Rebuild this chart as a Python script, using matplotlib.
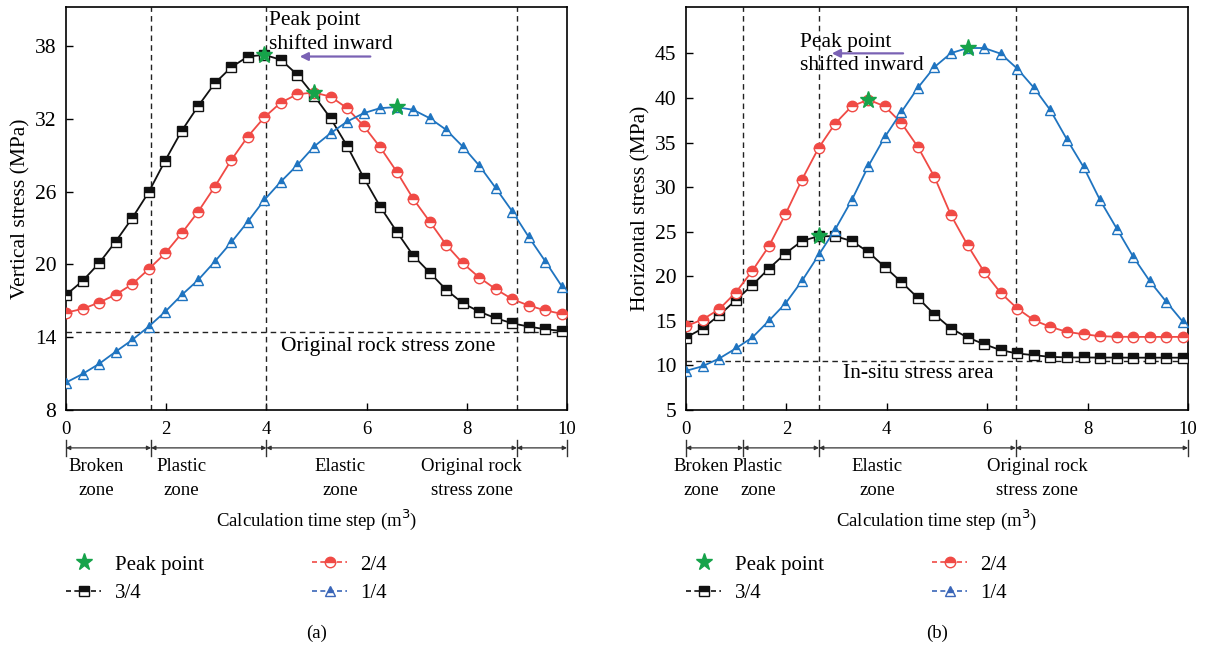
import matplotlib
matplotlib.use("Agg")
import matplotlib.pyplot as plt
from matplotlib.lines import Line2D
import numpy as np

plt.rcParams['font.family'] = ['Liberation Serif', 'DejaVu Serif']
plt.rcParams['font.size'] = 13.5

# calculation step positions (31 points)
x = np.arange(31) * 0.33

# (a) vertical stress
va_34 = [17.48, 18.63, 20.09, 21.87, 23.8, 25.94, 28.55, 31.0, 33.05, 34.92, 36.24,
         37.12, 37.26, 36.85, 35.61, 33.9, 32.04, 29.76, 27.15, 24.76, 22.7, 20.72,
         19.32, 17.9, 16.8, 16.1, 15.56, 15.14, 14.87, 14.65, 14.51]
va_24 = [16.02, 16.33, 16.85, 17.5, 18.36, 19.6, 20.91, 22.56, 24.35, 26.4, 28.6,
         30.53, 32.12, 33.33, 34.02, 34.15, 33.82, 32.87, 31.41, 29.65, 27.64, 25.4,
         23.52, 21.6, 20.09, 18.91, 17.95, 17.13, 16.6, 16.2, 15.92]
va_14 = [10.26, 10.97, 11.8, 12.8, 13.77, 14.87, 16.1, 17.48, 18.72, 20.23, 21.82,
         23.52, 25.31, 26.82, 28.19, 29.7, 30.8, 31.76, 32.45, 32.87, 32.95, 32.73,
         32.04, 31.08, 29.7, 28.13, 26.27, 24.35, 22.23, 20.23, 18.17]
peak_a = [12, 15, 20]   # indices of peak points (3/4, 2/4, 1/4)

# (b) horizontal stress
hb_34 = [13.13, 14.14, 15.63, 17.31, 19.0, 20.86, 22.55, 23.96, 24.49, 24.49, 23.96,
         22.73, 21.04, 19.36, 17.57, 15.71, 14.14, 13.13, 12.38, 11.71, 11.34, 11.15,
         10.96, 10.9, 10.89, 10.88, 10.88, 10.87, 10.87, 10.87, 10.87]
hb_24 = [14.4, 15.15, 16.3, 18.17, 20.6, 23.36, 26.95, 30.84, 34.38, 37.12, 39.06,
         39.81, 39.06, 37.19, 34.5, 31.13, 26.84, 23.48, 20.48, 18.13, 16.38, 15.07,
         14.32, 13.76, 13.5, 13.28, 13.22, 13.2, 13.2, 13.2, 13.2]
hb_14 = [9.39, 9.91, 10.77, 11.9, 13.13, 15.0, 16.94, 19.48, 22.36, 25.24, 28.52,
         32.33, 35.62, 38.42, 41.15, 43.47, 45.03, 45.6, 45.6, 44.96, 43.28, 41.15,
         38.61, 35.33, 32.25, 28.52, 25.35, 22.17, 19.44, 17.12, 14.88]
peak_b = [8, 11, 17]

c_black = '#111111'
c_red = '#f04a45'
c_blue = '#1f74c0'
c_green = '#16a34a'
c_purple = '#7a62b4'

fig = plt.figure(figsize=(12.05, 6.47), dpi=100)

big = 15.5


def panel(rect, series, peaks, ylim, yticks, ylabel, vlines, hline, hl_text,
          zones, zone_x, tag, peak_txt, arrow):
    ax = fig.add_axes(rect)
    styles = [(c_black, 's', 7), (c_red, 'o', 7.5), (c_blue, '^', 7.5)]
    for y, (c, m, ms) in zip(series, styles):
        ax.plot(x, y, color=c, lw=1.3, marker=m, ms=ms, fillstyle='top',
                markerfacecoloralt='white', markeredgecolor=c, mew=1.0, zorder=3)
    for y, i in zip(series, peaks):
        ax.plot(x[i], y[i], marker='*', ms=12.5, color=c_green, mec=c_green, zorder=5)
    for v in vlines:
        ax.axvline(v, color='#222222', ls=(0, (4, 3)), lw=1.0, zorder=2)
    ax.axhline(hline, color='#222222', ls=(0, (4, 3)), lw=1.0, zorder=2)
    ax.text(hl_text[0], hl_text[1], hl_text[2], ha='center', va='center', fontsize=big)
    ax.text(peak_txt[0], peak_txt[1], 'Peak point\nshifted inward', ha='left',
            va='center', linespacing=1.3, fontsize=big, zorder=6)
    ax.annotate('', xy=(arrow[1], arrow[2]), xytext=(arrow[0], arrow[2]),
                arrowprops=dict(arrowstyle='-|>', color=c_purple, lw=1.6,
                                mutation_scale=12), zorder=6)
    ax.set_xlim(0, 10)
    ax.set_ylim(*ylim)
    ax.set_xticks([0, 2, 4, 6, 8, 10])
    ax.set_yticks(yticks)
    ax.tick_params(direction='in', length=5, width=1)
    ax.tick_params(axis='x', pad=8, labelsize=13.5)
    ax.tick_params(axis='y', pad=7, labelsize=big)
    ax.set_ylabel(ylabel, fontsize=big, labelpad=3)
    for s in ax.spines.values():
        s.set_linewidth(1.2)

    # zone arrows under the axis
    tr = ax.get_xaxis_transform()
    ya = -0.094
    for a, b in zip(zones[:-1], zones[1:]):
        ax.annotate('', xy=(a, ya), xytext=(b, ya), xycoords=tr, textcoords=tr,
                    arrowprops=dict(arrowstyle='<|-|>', color='#333333', lw=0.9,
                                    mutation_scale=6, shrinkA=0, shrinkB=0))
    for z in zones:
        ax.plot([z, z], [ya - 0.02, ya + 0.02], color='#333333', lw=1.0,
                transform=tr, clip_on=False)
    names = ['Broken\nzone', 'Plastic\nzone', 'Elastic\nzone', 'Original rock\nstress zone']
    for zx, n in zip(zone_x, names):
        ax.text(zx, -0.17, n, transform=tr, ha='center', va='center',
                linespacing=1.5, fontsize=13.5)
    ax.text(0.5, -0.273, 'Calculation time step (m$^3$)', transform=ax.transAxes,
            ha='center', va='center', fontsize=13.5)
    ax.text(0.5, -0.553, tag, transform=ax.transAxes, ha='center', va='center',
            fontsize=13.5)

    handles = [
        Line2D([], [], ls='none', marker='*', ms=12.5, color=c_green),
        Line2D([], [], ls=(0, (3, 2)), color=c_black, marker='s', ms=7,
               fillstyle='top', markerfacecoloralt='white', lw=1.2),
        Line2D([], [], ls=(0, (3, 2)), color=c_red, marker='o', ms=7.5,
               fillstyle='top', markerfacecoloralt='white', lw=1.2),
        Line2D([], [], ls=(0, (3, 2)), color='#3a66b8', marker='^', ms=7.5,
               fillstyle='top', markerfacecoloralt='white', lw=1.2),
    ]
    ax.legend(handles, ['Peak point', '3/4', '2/4', '1/4'], ncol=2,
              loc='upper left', bbox_to_anchor=(0.0, -0.36), frameon=False,
              handlelength=1.7, handletextpad=0.63, columnspacing=5.2,
              labelspacing=0.42, borderpad=0, borderaxespad=0, fontsize=15)
    return ax


panel([66 / 1205, 237 / 647, 501 / 1205, 403 / 647],
      [va_34, va_24, va_14], peak_a, (8, 41.2), [8, 14, 20, 26, 32, 38],
      'Vertical stress (MPa)', [1.7, 4.0, 9.0], 14.4,
      (6.43, 13.2, 'Original rock stress zone'),
      [0, 1.7, 4.0, 9.0, 10], [0.6, 2.3, 5.47, 8.1], '(a)',
      (4.05, 39.1), (6.13, 4.61, 37.12))

panel([686 / 1205, 237 / 647, 502 / 1205, 403 / 647],
      [hb_34, hb_24, hb_14], peak_b, (5, 50.2), [5, 10, 15, 20, 25, 30, 35, 40, 45],
      'Horizontal stress (MPa)', [1.14, 2.65, 6.57], 10.47,
      (4.62, 9.13, 'In-situ stress area'),
      [0, 1.14, 2.65, 6.57, 10], [0.3, 1.43, 3.8, 7.0], '(b)',
      (2.28, 44.9), (4.38, 2.85, 45.0))

fig.savefig('out.png', dpi=100)
